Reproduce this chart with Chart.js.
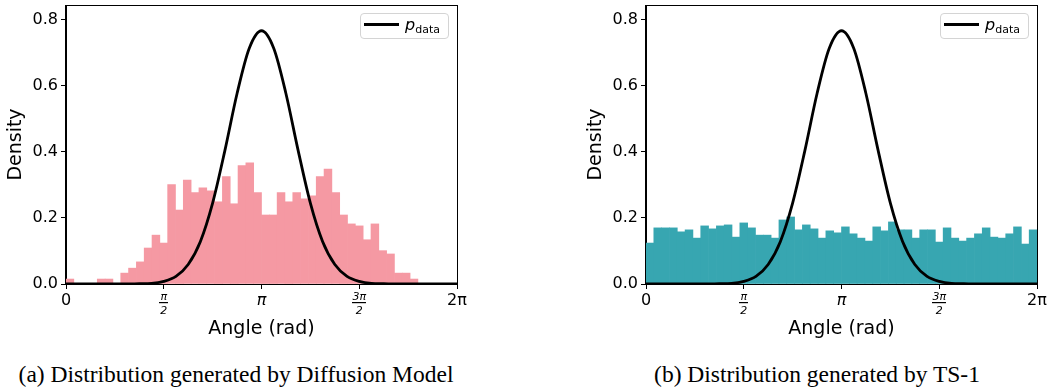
<!DOCTYPE html>
<html>
<head>
<meta charset="utf-8">
<script src="https://cdn.jsdelivr.net/npm/chart.js@4.4.1/dist/chart.umd.min.js"></script>
<style>
  body { margin: 0; background: #fff; width: 1050px; height: 389px; overflow: hidden; position: relative; font-family: "DejaVu Sans", sans-serif; }
  .panel { position: absolute; top: 0; width: 470px; height: 344px; }
  .legend { position: absolute; left: 360px; top: 13px; width: 89px; height: 26px; box-sizing: border-box;
            border: 1px solid #d4d4d4; border-radius: 4px; background: rgba(255,255,255,0.8); }
  .legend .swatch { position: absolute; left: 3px; top: 9px; width: 35px; height: 3px; background: #000; }
  .legend .txt { position: absolute; left: 44px; top: 1px; font-size: 16px; line-height: 20px; color: #000; white-space: nowrap; }
  .legend .txt sub { font-size: 11px; vertical-align: -3px; }
  .caption { position: absolute; top: 363px; font-family: "Liberation Serif", serif; font-size: 23.5px; line-height: 1;
             white-space: nowrap; transform: translateX(-50%); color: #000; }
</style>
</head>
<body>
<div class="panel" style="left:0px">
  <canvas id="diffusion" width="470" height="344"></canvas>
  <div class="legend"><div class="swatch"></div><div class="txt"><i>p</i><sub>data</sub></div></div>
</div>
<div class="panel" style="left:580px">
  <canvas id="ts1" width="470" height="344"></canvas>
  <div class="legend"><div class="swatch"></div><div class="txt"><i>p</i><sub>data</sub></div></div>
</div>
<div class="caption" style="left:236px">(a) Distribution generated by Diffusion Model</div>
<div class="caption" style="left:817px">(b) Distribution generated by TS-1</div>

<script>
// histogram densities, 50 equal bins over [0, 2π]
const diffusionDensity = [
  0.015, 0, 0, 0, 0.015, 0.015, 0, 0.033, 0.048, 0.067,
  0.109, 0.148, 0.124, 0.301, 0.224, 0.315, 0.277, 0.291, 0.282, 0.249,
  0.325, 0.243, 0.359, 0.367, 0.277, 0.209, 0.209, 0.277, 0.249, 0.277,
  0.258, 0.267, 0.325, 0.348, 0.277, 0.209, 0.182, 0.176, 0.134, 0.182,
  0.101, 0.091, 0.033, 0.033, 0.015, 0, 0, 0, 0, 0
];
const ts1Density = [
  0.124, 0.170, 0.170, 0.170, 0.158, 0.164, 0.139, 0.176, 0.167, 0.176,
  0.179, 0.142, 0.185, 0.170, 0.148, 0.148, 0.139, 0.194, 0.203, 0.164,
  0.179, 0.167, 0.139, 0.161, 0.155, 0.173, 0.152, 0.139, 0.130, 0.173,
  0.161, 0.188, 0.164, 0.164, 0.139, 0.164, 0.164, 0.127, 0.170, 0.139,
  0.130, 0.139, 0.152, 0.170, 0.142, 0.139, 0.152, 0.173, 0.121, 0.164
];
const binLabels = diffusionDensity.map((_, i) => String(i));

// p_data curve (angle in rad, density)
const pdataX = [
  0.000, 0.196, 0.393, 0.589, 0.785, 0.982, 1.178, 1.374, 1.571, 1.767, 1.963,
  2.160, 2.356, 2.553, 2.749, 2.945, 3.142, 3.338, 3.534, 3.731, 3.927,
  4.123, 4.320, 4.516, 4.712, 4.909, 5.105, 5.301, 5.498, 5.694, 5.890, 6.087, 6.283
];
const pdataY = [
  0, 0, 0, 0, 0, 0, 0.001, 0.002, 0.008, 0.023, 0.059,
  0.129, 0.245, 0.404, 0.577, 0.714, 0.767, 0.714, 0.577, 0.404, 0.245,
  0.129, 0.059, 0.023, 0.008, 0.002, 0.001, 0, 0, 0, 0, 0, 0
];

const xTickValues = [0, Math.PI / 2, Math.PI, 3 * Math.PI / 2, 2 * Math.PI];
const xTickLabels = ["0", ["π", "2"], "π", ["3π", "2"], "2π"];
const yTickStep = 0.2;

const frame = {
  id: "frame",
  afterDraw(chart) {
    const { ctx, chartArea: a } = chart;
    ctx.save();
    ctx.strokeStyle = "#000";
    ctx.lineWidth = 1;
    ctx.strokeRect(Math.round(a.left) - 0.5, Math.round(a.top) + 0.5, Math.round(a.right - a.left) + 1, Math.round(a.bottom - a.top));
    // fraction bars under the π/2 style tick labels
    const sc = chart.scales.x2;
    xTickValues.forEach((v, i) => {
      if (!Array.isArray(xTickLabels[i])) return;
      const px = sc.getPixelForValue(v);
      const w = xTickLabels[i][0].length > 1 ? 14 : 9;
      ctx.fillStyle = "#000";
      ctx.fillRect(Math.round(px - w / 2), a.bottom + 18, w, 1.2);
    });
    ctx.restore();
  }
};

function tickFont(c) {
  const lab = xTickLabels[c.index];
  if (Array.isArray(lab)) return { family: "DejaVu Sans", size: 11, lineHeight: 1.2, style: "italic" };
  if (lab === "π") return { family: "DejaVu Sans", size: 16, style: "italic" };
  return { family: "DejaVu Sans", size: 16 };
}

function makeChart(id, density, color) {
  new Chart(document.getElementById(id), {
    type: "bar",
    data: {
      labels: binLabels,
      datasets: [
        {
          type: "line",
          label: "p_data",
          data: pdataX.map((x, i) => ({ x: x, y: pdataY[i] })),
          xAxisID: "x2",
          borderColor: "#000",
          borderWidth: 2.8,
          pointRadius: 0,
          cubicInterpolationMode: "monotone",
          fill: false,
          order: 0,
        },
        {
          type: "bar",
          label: "hist",
          data: density,
          xAxisID: "x",
          backgroundColor: color,
          borderColor: color,
          borderWidth: 0,
          categoryPercentage: 1.0,
          barPercentage: 1.0,
          grouped: false,
          order: 1,
        },
      ],
    },
    options: {
      responsive: false,
      animation: false,
      datasets: { bar: { categoryPercentage: 1.0, barPercentage: 1.0 } },
      layout: { padding: { top: 5, right: 13, left: 0, bottom: 0 } },
      plugins: { legend: { display: false }, tooltip: { enabled: false } },
      scales: {
        x: { display: false, offset: true },
        x2: {
          type: "linear",
          position: "bottom",
          offset: false,
          min: 0,
          max: 2 * Math.PI,
          afterBuildTicks: (s) => { s.ticks = xTickValues.map((v) => ({ value: v })); },
          afterFit: (s) => { s.height = 60; s.paddingLeft = 0; s.paddingRight = 0; },
          ticks: {
            autoSkip: false,
            maxRotation: 0,
            padding: 2,
            color: "#000",
            callback: (v, i) => xTickLabels[i],
            font: tickFont,
          },
          grid: { drawOnChartArea: false, color: "#000", tickLength: 5, offset: false },
          border: { color: "#000" },
          title: { display: true, text: "Angle (rad)", color: "#000", font: { family: "DejaVu Sans", size: 19 } },
        },
        y: {
          min: 0,
          max: 0.845,
          afterFit: (s) => { s.width = 66; s.paddingTop = 0; s.paddingBottom = 0; },
          ticks: {
            stepSize: yTickStep,
            includeBounds: false,
            color: "#000",
            padding: 3,
            font: { family: "DejaVu Sans", size: 16 },
            callback: (v) => v.toFixed(1),
          },
          grid: { drawOnChartArea: false, color: "#000", tickLength: 5 },
          border: { color: "#000" },
          title: { display: true, text: "Density", color: "#000", font: { family: "DejaVu Sans", size: 19 }, padding: { top: 5, bottom: 4 } },
        },
      },
    },
    plugins: [frame],
  });
}

makeChart("diffusion", diffusionDensity, "#f599a3");
makeChart("ts1", ts1Density, "#37a6b1");
</script>
</body>
</html>
